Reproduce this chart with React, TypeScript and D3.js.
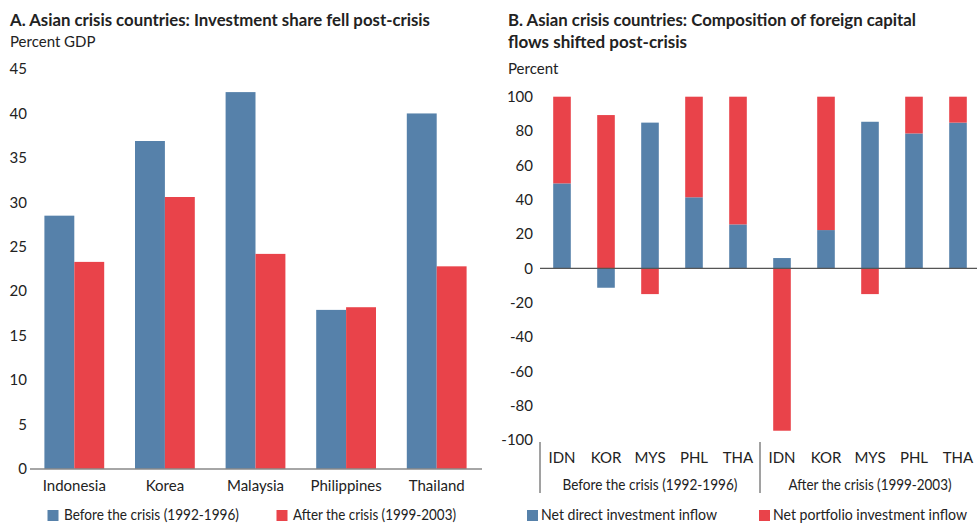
import React, { useEffect, useRef } from "react";
import * as d3 from "d3";

const countries = ["Indonesia", "Korea", "Malaysia", "Philippines", "Thailand"];
const beforeShare = [28.5, 36.9, 42.4, 17.9, 40.0];
const afterShare = [23.3, 30.6, 24.2, 18.2, 22.8];
const leftTicks = [0, 5, 10, 15, 20, 25, 30, 35, 40, 45];

const codes = ["IDN", "KOR", "MYS", "PHL", "THA"];
const periods = ["Before the crisis (1992-1996)", "After the crisis (1999-2003)"];
const directInflow = [49.5, -11.3, 84.9, 41.4, 25.6, 6.0, 22.3, 85.4, 78.6, 84.9];
const portfolioInflow = [50.5, 89.3, -15.0, 58.6, 74.4, -94.6, 77.7, -15.0, 21.4, 15.1];
const rightTicks = [-100, -80, -60, -40, -20, 0, 20, 40, 60, 80, 100];

const BLUE = "#5681aa";
const RED = "#e9434a";
const TEXT = "#222";
const FONT = "Lato, 'Noto Sans', sans-serif";

export default function App() {
  const ref = useRef<SVGSVGElement>(null);

  useEffect(() => {
    const svg = d3.select(ref.current);
    svg.selectAll("*").remove();
    svg.attr("font-family", FONT).attr("fill", TEXT);

    // ---- Panel A ----
    const a = svg.append("g");
    a.append("text").text("A. Asian crisis countries: Investment share fell post-crisis")
      .attr("x", 10).attr("y", 26).attr("font-size", 17).attr("font-weight", 700)
      .attr("textLength", 420).attr("lengthAdjust", "spacingAndGlyphs");
    a.append("text").text("Percent GDP").attr("x", 10).attr("y", 47).attr("font-size", 15);

    const yA = d3.scaleLinear().domain([0, 45]).range([469, 69]);
    const xA = d3.scaleBand().domain(countries).range([29, 482]).paddingInner(0.34).paddingOuter(0.17);
    const xSub = d3.scaleBand().domain(["before", "after"]).range([0, xA.bandwidth()]);

    a.selectAll(".ytick").data(leftTicks).enter().append("text")
      .attr("x", 27).attr("y", (d) => yA(d)).attr("dy", "0.35em")
      .attr("text-anchor", "end").attr("font-size", 15).text((d) => d);

    const groups = a.selectAll(".grp").data(countries).enter().append("g")
      .attr("transform", (d) => `translate(${xA(d)},0)`);
    groups.append("rect")
      .attr("x", xSub("before")!).attr("width", xSub.bandwidth())
      .attr("y", (_, i) => yA(beforeShare[i])).attr("height", (_, i) => yA(0) - yA(beforeShare[i]))
      .attr("fill", BLUE);
    groups.append("rect")
      .attr("x", xSub("after")!).attr("width", xSub.bandwidth())
      .attr("y", (_, i) => yA(afterShare[i])).attr("height", (_, i) => yA(0) - yA(afterShare[i]))
      .attr("fill", RED);

    a.append("line").attr("x1", 30).attr("x2", 482).attr("y1", yA(0)).attr("y2", yA(0))
      .attr("stroke", "#888").attr("stroke-width", 1.5);

    a.selectAll(".xlab").data(countries).enter().append("text")
      .attr("x", (d) => xA(d)! + xA.bandwidth() / 2).attr("y", 491)
      .attr("text-anchor", "middle").attr("font-size", 15).text((d) => d);

    const legA = [
      { label: periods[0], color: BLUE, x: 47.5, w: 175 },
      { label: periods[1], color: RED, x: 276.5, w: 163 },
    ];
    legA.forEach((l) => {
      a.append("rect").attr("x", l.x).attr("y", 510).attr("width", 11).attr("height", 11).attr("fill", l.color);
      a.append("text").text(l.label).attr("x", l.x + 16.5).attr("y", 519.5).attr("font-size", 15)
        .attr("textLength", l.w).attr("lengthAdjust", "spacingAndGlyphs");
    });

    // ---- Panel B ----
    const b = svg.append("g");
    b.append("text").text("B. Asian crisis countries: Composition of foreign capital")
      .attr("x", 508).attr("y", 26).attr("font-size", 17).attr("font-weight", 700)
      .attr("textLength", 408).attr("lengthAdjust", "spacingAndGlyphs");
    b.append("text").text("flows shifted post-crisis")
      .attr("x", 508).attr("y", 48).attr("font-size", 17).attr("font-weight", 700);
    b.append("text").text("Percent").attr("x", 508).attr("y", 74).attr("font-size", 15);

    const keys = periods.flatMap((p, pi) => codes.map((c) => `${pi}-${c}`));
    const rows = keys.map((k, i) => ({ key: k, direct: directInflow[i], portfolio: portfolioInflow[i] }));
    const yB = d3.scaleLinear().domain([-100, 100]).range([440, 96.7]);
    const xB = d3.scaleBand().domain(keys).range([540, 980]).paddingInner(0.6).paddingOuter(0.3);

    b.selectAll(".ytick").data(rightTicks).enter().append("text")
      .attr("x", 533).attr("y", (d) => yB(d)).attr("dy", "0.35em")
      .attr("text-anchor", "end").attr("font-size", 15).text((d) => d);

    const stack = d3.stack<any>().keys(["direct", "portfolio"]).offset(d3.stackOffsetDiverging);
    const series = stack(rows);
    const colors: Record<string, string> = { direct: BLUE, portfolio: RED };
    series.forEach((s) => {
      b.selectAll(`.bar-${s.key}`).data(s).enter().append("rect")
        .attr("x", (d) => xB(d.data.key)!).attr("width", xB.bandwidth())
        .attr("y", (d) => yB(Math.max(d[0], d[1])))
        .attr("height", (d) => Math.abs(yB(d[0]) - yB(d[1])))
        .attr("fill", colors[s.key]);
    });

    b.append("line").attr("x1", 540).attr("x2", 977).attr("y1", yB(0)).attr("y2", yB(0))
      .attr("stroke", "#555").attr("stroke-width", 1.2);

    b.selectAll(".xlab").data(rows).enter().append("text")
      .attr("x", (d) => xB(d.key)! + xB.bandwidth() / 2).attr("y", 463)
      .attr("text-anchor", "middle").attr("font-size", 15).text((d) => d.key.split("-")[1]);

    const step = xB.step();
    const groupW = [175, 163];
    periods.forEach((p, pi) => {
      const x0 = 540 + pi * 5 * step;
      b.append("line").attr("x1", x0).attr("x2", x0).attr("y1", 442).attr("y2", 493)
        .attr("stroke", "#444").attr("stroke-width", 1);
      b.append("text").text(p).attr("x", x0 + 2.5 * step).attr("y", 490)
        .attr("text-anchor", "middle").attr("font-size", 15)
        .attr("textLength", groupW[pi]).attr("lengthAdjust", "spacingAndGlyphs");
    });

    const legB = [
      { label: "Net direct investment inflow", color: BLUE, x: 527, w: 176 },
      { label: "Net portfolio investment inflow", color: RED, x: 759, w: 194 },
    ];
    legB.forEach((l) => {
      b.append("rect").attr("x", l.x).attr("y", 510).attr("width", 11).attr("height", 11).attr("fill", l.color);
      b.append("text").text(l.label).attr("x", l.x + 14).attr("y", 519.5).attr("font-size", 14.5)
        .attr("textLength", l.w).attr("lengthAdjust", "spacingAndGlyphs");
    });
  }, []);

  return (
    <svg ref={ref} width={977} height={523}
      style={{ position: "absolute", left: 0, top: 0, display: "block", background: "#fff" }} />
  );
}
